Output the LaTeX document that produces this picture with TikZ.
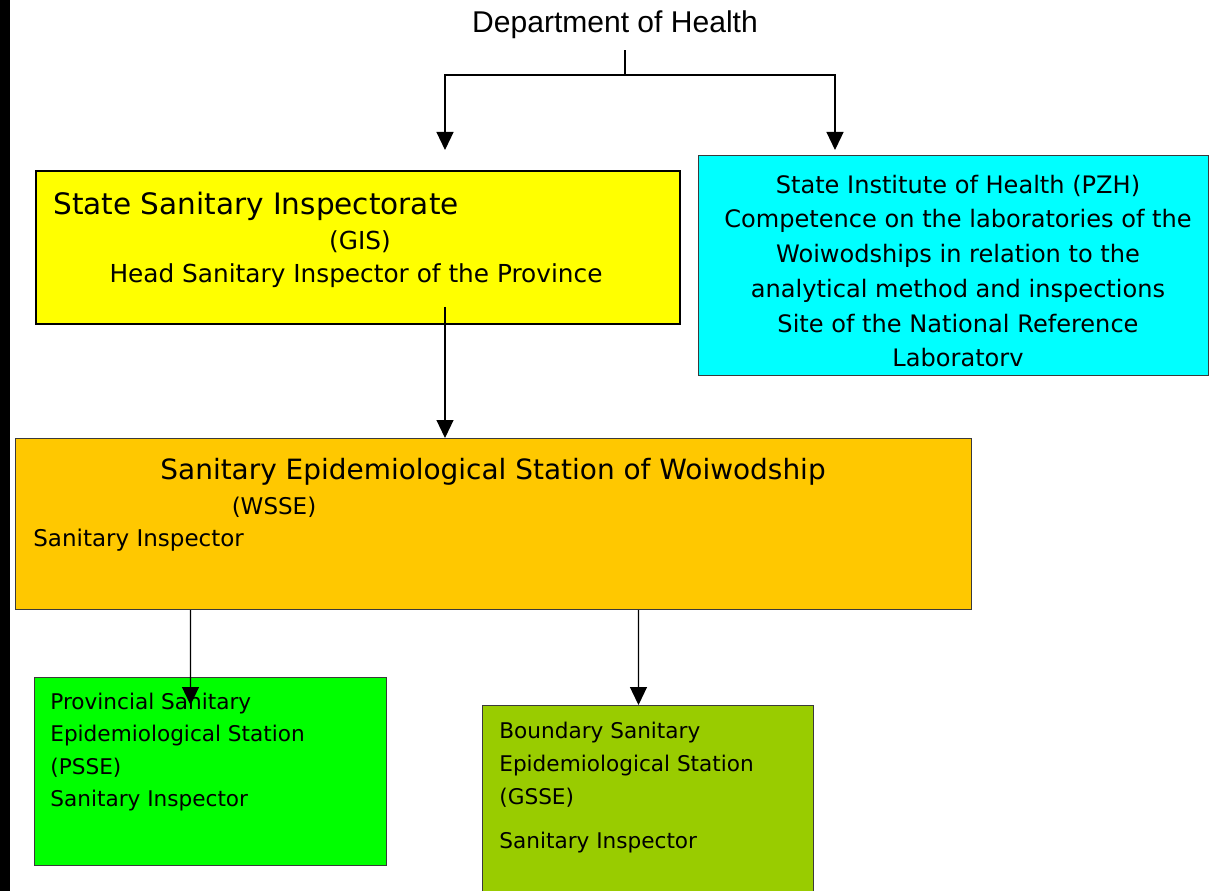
\documentclass[tikz,border=0pt]{standalone}
\usepackage{fontspec}
\setmainfont{DejaVu Sans}
\newfontfamily\deptfont{Liberation Sans}
\usetikzlibrary{arrows.meta,positioning}
\definecolor{gisyellow}{HTML}{FFFF00}
\definecolor{pzhcyan}{HTML}{00FFFF}
\definecolor{wsseorange}{HTML}{FFC800}
\definecolor{pssegreen}{HTML}{00FF00}
\definecolor{gsseolive}{HTML}{99CC00}
\definecolor{edge}{HTML}{3A3A3A}

\begin{document}
\begin{tikzpicture}[x=0.02cm,y=-0.02cm,
  box/.style={draw=edge,line width=0.6pt,inner sep=0pt,anchor=north west},
  txt/.style={inner sep=0pt,anchor=north west,align=left},
  line/.style={inner sep=0pt,anchor=base},
  link/.style={-{Triangle[width=3.4mm,length=3.6mm]},line width=0.7pt,draw=black},
  wire/.style={line width=0.7pt,draw=black}
]
\useasboundingbox (0,0) rectangle (1209,891);
\fill[black] (0,0) rectangle (10,891);

\node[line,anchor=center,font=\deptfont\fontsize{17.1}{20}\selectfont] (dept) at (615,25) {Department of Health};

% boxes
\node[box,draw=black,line width=1.1pt,fill=gisyellow,minimum width=12.88cm,minimum height=3.06cm] (gis) at (35,170) {};
\node[box,fill=pzhcyan,minimum width=10.2cm,minimum height=4.4cm] (pzh) at (698,155) {};
\node[box,fill=wsseorange,minimum width=19.12cm,minimum height=3.42cm] (wsse) at (15,438) {};
\node[box,fill=pssegreen,minimum width=7.04cm,minimum height=3.76cm] (psse) at (34,677) {};
\node[box,fill=gsseolive,minimum width=6.62cm,minimum height=4cm] (gsse) at (482,705) {};

% texts
\node[line,anchor=base west,font=\fontsize{16.8}{20}\selectfont] (gisname) at (53,215) {State Sanitary Inspectorate};
\node[line,font=\fontsize{14.1}{17}\selectfont] (gisabbr) at (360,250) {(GIS)};
\node[line,font=\fontsize{14.1}{17}\selectfont] (gishead) at (356,283) {Head Sanitary Inspector of the Province};

\node[inner sep=0pt,align=center,font=\fontsize{13.7}{19.8}\selectfont] (pzhtext) at (958,271)
  {State Institute of Health (PZH)\\Competence on the laboratories of the\\Woiwodships in relation to the\\
   analytical method and inspections\\Site of the National Reference\\Laboratorv};

\node[line,font=\fontsize{15.9}{19}\selectfont] (wssename) at (493,479) {Sanitary Epidemiological Station of Woiwodship};
\node[line,font=\fontsize{13.1}{16}\selectfont] (wsseabbr) at (274,514) {(WSSE)};
\node[line,anchor=base west,font=\fontsize{13.1}{16}\selectfont] (wsseinsp) at (33,546) {Sanitary Inspector};

\node[txt,font=\fontsize{12.3}{18.3}\selectfont] (pssetext) at (50,693)
  {Provincial Sanitary\\Epidemiological Station\\(PSSE)\\Sanitary Inspector};
\node[txt,font=\fontsize{12.3}{18.7}\selectfont] (gssetext) at (499,722)
  {Boundary Sanitary\\Epidemiological Station\\(GSSE)\\[0.22cm]Sanitary Inspector};

% connectors
\coordinate (split) at (625,75);
\coordinate (gisin) at (445,150);
\coordinate (pzhin) at (835,150);
\coordinate (gisout) at (445,307);
\draw[wire] ([yshift=-2.2mm]dept.south -| split) -- (split);
\draw[link] (split) -| (gisin);
\draw[link] (split) -| (pzhin);
\draw[link] (gisout) -- (wsse.north -| gisout);
\draw[link] ([xshift=-6.06cm]wsse.south) -- ([xshift=-0.4cm,yshift=-5.6mm]psse.north);
\draw[link] ([xshift=2.9cm]wsse.south) -- ([xshift=-0.19cm]gsse.north);
\end{tikzpicture}
\end{document}
